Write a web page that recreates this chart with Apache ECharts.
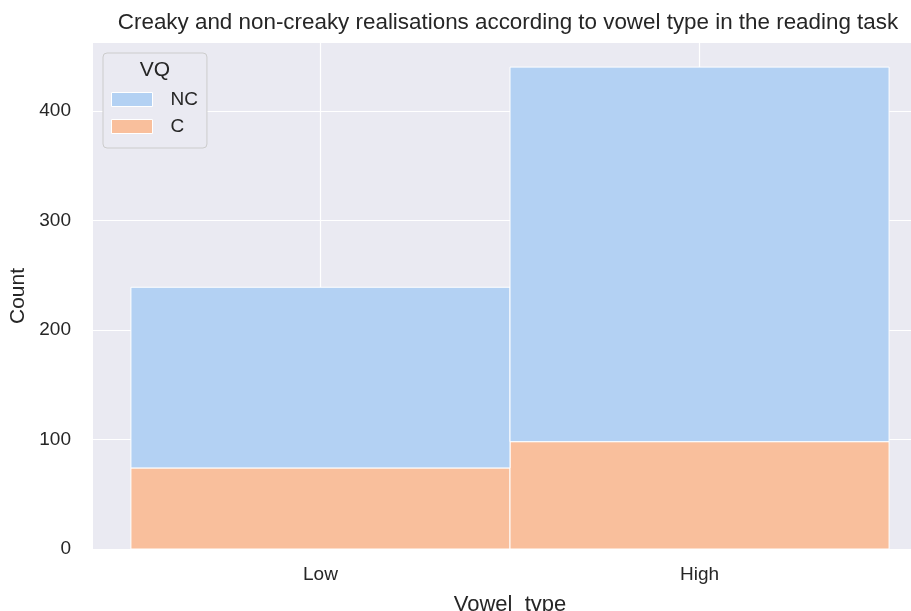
<!DOCTYPE html>
<html>
<head>
<meta charset="utf-8">
<script src="https://cdn.jsdelivr.net/npm/echarts@6/dist/echarts.min.js"></script>
<style>html,body{margin:0;padding:0;background:#fff;}#c{width:911px;height:611px;}</style>
</head>
<body>
<div id="c"></div>
<script>
const categories = ['Low', 'High'];
const ncCounts = [165, 342];
const cCounts = [74, 98];
const yTicks = [0, 100, 200, 300, 400];

const FONT = 'Liberation Sans, Arial, Helvetica, sans-serif';
const TXT = '#262626';

const cData = categories.map((c, i) => [i, 0, cCounts[i]]);
const ncData = categories.map((c, i) => [i, cCounts[i], cCounts[i] + ncCounts[i]]);

function renderBar(params, api) {
  const x = api.value(0), y0 = api.value(1), y1 = api.value(2);
  const p0 = api.coord([x - 0.5, y1]);
  const p1 = api.coord([x + 0.5, y0]);
  return {
    type: 'rect',
    shape: { x: p0[0], y: p0[1], width: p1[0] - p0[0], height: p1[1] - p0[1] },
    style: { fill: api.visual('color'), stroke: '#ffffff', lineWidth: 1 }
  };
}

const chart = echarts.init(document.getElementById('c'), null, { renderer: 'canvas' });
chart.setOption({
  animation: false,
  backgroundColor: '#ffffff',
  textStyle: { fontFamily: FONT },
  title: {
    text: 'Creaky and non-creaky realisations according to vowel type in the reading task',
    left: 503, top: 7, textAlign: 'center',
    textStyle: { fontFamily: FONT, fontSize: 22.4, fontWeight: 'normal', color: TXT }
  },
  grid: {
    left: 93, right: -16, top: 43, bottom: 62,
    outerBoundsMode: 'none', containLabel: false,
    show: true, backgroundColor: '#EAEAF2', borderWidth: 0
  },
  legend: {
    data: ['NC', 'C'],
    orient: 'vertical',
    left: 103, top: 53,
    padding: [37, 9, 12, 8],
    itemWidth: 41, itemHeight: 14, itemGap: 8,
    icon: 'rect',
    backgroundColor: '#EAEAF2',
    borderColor: '#cccccc', borderWidth: 1, borderRadius: 4,
    itemStyle: { borderColor: '#ffffff', borderWidth: 1 },
    textStyle: { fontFamily: FONT, fontSize: 19, color: TXT, lineHeight: 14, padding: [0, 0, 0, 13] }
  },
  graphic: [{
    type: 'text', x: 155, y: 70, z: 200, zlevel: 1,
    style: { text: 'VQ', font: '21px ' + FONT, fill: TXT, align: 'center', verticalAlign: 'middle' }
  }],
  xAxis: {
    type: 'value', min: -0.6, max: 1.6,
    name: 'Vowel_type', nameLocation: 'middle', nameGap: 45,
    nameTextStyle: { fontFamily: FONT, fontSize: 22, color: TXT },
    axisLine: { show: false },
    axisTick: { show: false, customValues: [0, 1] },
    axisLabel: {
      customValues: [0, 1],
      formatter: v => categories[Math.round(v)],
      fontFamily: FONT, fontSize: 19, color: TXT, margin: 16
    },
    splitLine: { show: true, lineStyle: { color: '#ffffff', width: 1.2 } }
  },
  yAxis: {
    type: 'value', min: 0, max: 462,
    name: 'Count', nameLocation: 'middle', nameGap: 58, nameRotate: 90,
    nameTextStyle: { fontFamily: FONT, fontSize: 21, color: TXT },
    axisLine: { show: false },
    axisTick: { show: false, customValues: yTicks },
    axisLabel: {
      customValues: yTicks,
      fontFamily: FONT, fontSize: 19, color: TXT, margin: 22
    },
    splitLine: { show: true, lineStyle: { color: '#ffffff', width: 1.2 } }
  },
  series: [
    {
      name: 'C', type: 'custom', renderItem: renderBar,
      itemStyle: { color: '#F9BF9C' },
      encode: { x: 0, y: [1, 2] },
      data: cData
    },
    {
      name: 'NC', type: 'custom', renderItem: renderBar,
      itemStyle: { color: '#B3D1F3' },
      encode: { x: 0, y: [1, 2] },
      data: ncData
    }
  ]
});
</script>
</body>
</html>
